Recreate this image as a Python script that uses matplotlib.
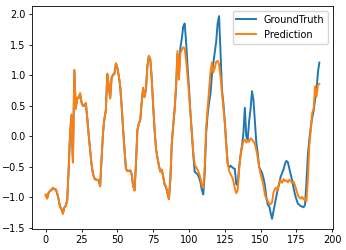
import matplotlib
matplotlib.use("Agg")
import matplotlib.pyplot as plt
import numpy as np

# values, one per time step (0..191)
prediction = [
    -0.95, -1.02, -0.92, -0.90, -0.87, -0.84, -0.87, -0.86, -0.92, -1.02,
    -1.16, -1.18, -1.27, -1.16, -1.14, -1.06, -0.55, 0.02, 0.36, -0.43,
    1.09, 0.45, 0.64, 0.62, 0.71, 0.55, 0.51, 0.50, 0.55, 0.30,
    0.02, -0.22, -0.45, -0.62, -0.68, -0.70, -0.72, -0.71, -0.82, -0.35,
    0.05, 0.30, 0.42, 1.03, 0.83, 0.62, 0.97, 1.00, 1.02, 1.20,
    1.12, 1.00, 0.83, 0.50, 0.12, -0.22, -0.52, -0.57, -0.56, -0.55,
    -0.62, -0.80, -0.89, -0.45, 0.10, 0.20, 0.28, 0.55, 0.80, 0.64,
    0.78, 1.15, 1.32, 1.27, 0.95, 0.50, 0.12, -0.20, -0.35, -0.47,
    -0.58, -0.54, -0.66, -0.78, -0.82, -0.92, -1.03, -0.70, -0.12, 0.18,
    0.45, 0.85, 1.40, 0.93, 1.36, 1.42, 1.46, 1.44, 1.25, 0.98,
    0.72, 0.40, 0.10, -0.25, -0.46, -0.50, -0.55, -0.60, -0.68, -0.80,
    -0.84, -0.48, 0.15, 0.45, 0.75, 1.05, 1.21, 1.05, 1.12, 1.22,
    1.24, 1.18, 0.98, 0.72, 0.45, 0.22, -0.15, -0.43, -0.56, -0.62,
    -0.66, -0.73, -0.85, -0.93, -0.88, -0.55, -0.32, -0.18, -0.08, -0.05,
    -0.10, -0.07, -0.09, -0.03, -0.05, -0.08, -0.12, -0.22, -0.35, -0.50,
    -0.62, -0.70, -0.80, -0.95, -1.02, -1.06, -1.10, -1.11, -1.08, -0.92,
    -0.86, -0.84, -0.88, -0.74, -0.72, -0.76, -0.70, -0.73, -0.72, -0.75,
    -0.71, -0.73, -0.76, -0.74, -0.80, -0.88, -0.96, -1.00, -1.02, -0.99,
    -1.03, -1.02, -1.06, -0.70, -0.15, 0.10, 0.38, 0.45, 0.82, 0.65,
    0.84, 0.86,
]

ground_truth = [
    -0.96, -1.01, -0.93, -0.89, -0.88, -0.85, -0.86, -0.87, -0.93, -1.03,
    -1.15, -1.19, -1.26, -1.17, -1.13, -1.05, -0.56, 0.03, 0.35, -0.42,
    1.08, 0.46, 0.63, 0.63, 0.70, 0.56, 0.50, 0.51, 0.54, 0.31,
    0.03, -0.21, -0.46, -0.61, -0.69, -0.71, -0.71, -0.72, -0.81, -0.36,
    0.06, 0.29, 0.43, 1.02, 0.84, 0.63, 0.96, 1.01, 1.03, 1.19,
    1.13, 0.99, 0.82, 0.51, 0.13, -0.21, -0.53, -0.56, -0.57, -0.56,
    -0.61, -0.81, -0.88, -0.46, 0.11, 0.21, 0.27, 0.56, 0.79, 0.65,
    0.77, 1.16, 1.31, 1.26, 0.96, 0.51, 0.11, -0.21, -0.34, -0.48,
    -0.57, -0.55, -0.65, -0.79, -0.83, -0.93, -1.02, -0.71, -0.13, 0.17,
    0.44, 0.80, 1.35, 1.00, 1.45, 1.60, 1.80, 1.85, 1.55, 1.15,
    0.80, 0.40, 0.05, -0.30, -0.58, -0.60, -0.62, -0.67, -0.75, -0.88,
    -0.95, -0.60, 0.05, 0.35, 0.55, 0.70, 1.00, 1.20, 1.37, 1.55,
    1.85, 1.97, 1.40, 0.77, 0.55, 0.25, -0.10, -0.45, -0.51, -0.48,
    -0.50, -0.52, -0.53, -0.78, -0.80, -0.50, -0.30, -0.15, 0.05, 0.47,
    0.00, -0.05, 0.25, 0.45, 0.74, 0.60, 0.25, -0.10, -0.28, -0.50,
    -0.55, -0.60, -0.68, -0.80, -1.00, -1.12, -1.14, -1.25, -1.35, -1.22,
    -1.10, -0.98, -0.86, -0.78, -0.66, -0.60, -0.54, -0.45, -0.40, -0.42,
    -0.52, -0.62, -0.72, -0.84, -0.95, -1.03, -1.10, -1.12, -1.14, -1.15,
    -1.16, -1.12, -0.75, -0.30, -0.05, 0.15, 0.30, 0.42, 0.60, 0.75,
    1.05, 1.21,
]

plt.rcParams['font.size'] = 7

fig = plt.figure(figsize=(3.46, 2.5), dpi=100)
ax = fig.add_axes([0.0925, 0.084, 0.87, 0.892])

steps = np.arange(len(ground_truth))
ax.plot(steps, ground_truth, label='GroundTruth', linewidth=1.4)
ax.plot(steps, prediction, label='Prediction', linewidth=1.4)

ax.set_yticks([-1.5, -1.0, -0.5, 0.0, 0.5, 1.0, 1.5, 2.0])
ax.set_xticks([0, 25, 50, 75, 100, 125, 150, 175, 200])
ax.tick_params(length=2.5, width=0.6, pad=2)
for s in ax.spines.values():
    s.set_linewidth(0.6)
ax.legend(loc='upper right', handlelength=2.0, borderpad=0.4)

fig.savefig('out.png', dpi=100)
